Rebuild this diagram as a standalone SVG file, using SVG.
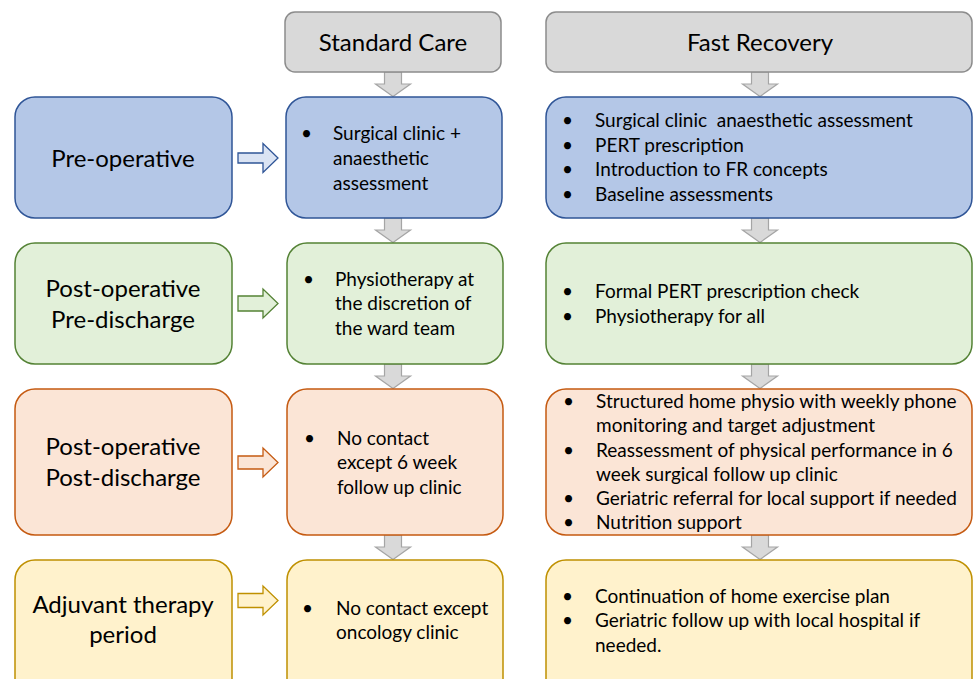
<svg xmlns="http://www.w3.org/2000/svg" width="973" height="679" viewBox="0 0 973 679">
<style>
text{font-family:Lato,"Liberation Sans",sans-serif;fill:#000}
.lbl{font-size:24px;text-anchor:middle}
.hd{font-size:24px;text-anchor:middle}
.it{font-size:19px}
.bl{fill:#b4c7e7;stroke:#2f5597;stroke-width:1.5}
.gr{fill:#e2f0d9;stroke:#548235;stroke-width:1.5}
.or{fill:#fbe5d6;stroke:#c55a11;stroke-width:1.5}
.ye{fill:#fff2cc;stroke:#bf9000;stroke-width:1.5}
.hdb{fill:#d9d9d9;stroke:#8c8c8c;stroke-width:1.5}
.da{fill:#d9d9d9;stroke:#a5a5a5;stroke-width:1.2}
.ab{fill:#dae3f3;stroke:#2f5597;stroke-width:1.3}
.ag{fill:#e2f0d9;stroke:#548235;stroke-width:1.3}
.ao{fill:#fbe5d6;stroke:#c55a11;stroke-width:1.3}
.ay{fill:#fff2cc;stroke:#bf9000;stroke-width:1.3}
</style>
<defs>
<path id="down" d="M-8.5,0 H8.5 V12 H17.5 L0,24.5 L-17.5,12 H-8.5 Z"/>
</defs>
<g id="connectors">
<use href="#down" class="da" x="393" y="72"/>
<use href="#down" class="da" x="760" y="72"/>
<use href="#down" class="da" x="393" y="218"/>
<use href="#down" class="da" x="760" y="218"/>
<use href="#down" class="da" x="393" y="364"/>
<use href="#down" class="da" x="760" y="364"/>
<use href="#down" class="da" x="393" y="535"/>
<use href="#down" class="da" x="760" y="535"/>
<path class="ab" d="M238,153 H263 V143.5 L278,158 L263,172.5 V163 H238 Z"/>
<path class="ag" d="M238,296 H263 V289 L278,303.5 L263,318 V311 H238 Z"/>
<path class="ao" d="M238,456 H263 V448 L278,462.5 L263,477 V469 H238 Z"/>
<path class="ay" d="M238,593.5 H263 V586 L278,600.5 L263,615 V607.5 H238 Z"/>
</g>
<g id="header-standard">
<rect class="hdb" x="285" y="12" width="216" height="60" rx="10"/>
<text class="hd" x="393" y="51">Standard Care</text>
</g>
<g id="header-fast">
<rect class="hdb" x="546" y="12" width="426" height="60" rx="10"/>
<text class="hd" x="760" y="51">Fast Recovery</text>
</g>
<g id="preop-label">
<rect class="bl" x="15" y="97" width="217" height="121" rx="20"/>
<text class="lbl" x="123" y="167">Pre-operative</text>
</g>
<g id="preop-standard">
<rect class="bl" x="286" y="97" width="216" height="121" rx="20"/>
<text class="it"><tspan x="301" y="140">•</tspan><tspan x="333" y="140">Surgical clinic +</tspan><tspan x="333" y="165">anaesthetic</tspan><tspan x="333" y="190">assessment</tspan></text>
</g>
<g id="preop-fast">
<rect class="bl" x="546" y="97" width="426" height="121" rx="20"/>
<text class="it"><tspan x="562" y="127">•</tspan><tspan x="595" y="127" style="white-space:pre">Surgical clinic  anaesthetic assessment</tspan>
<tspan x="562" y="152">•</tspan><tspan x="595" y="152">PERT prescription</tspan>
<tspan x="562" y="176">•</tspan><tspan x="595" y="176">Introduction to FR concepts</tspan>
<tspan x="562" y="201">•</tspan><tspan x="595" y="201">Baseline assessments</tspan></text>
</g>
<g id="predis-label">
<rect class="gr" x="15" y="243" width="217" height="121" rx="20"/>
<text class="lbl"><tspan x="123" y="297">Post-operative</tspan><tspan x="123" y="328">Pre-discharge</tspan></text>
</g>
<g id="predis-standard">
<rect class="gr" x="287" y="243" width="216" height="121" rx="20"/>
<text class="it"><tspan x="303" y="286">•</tspan><tspan x="335" y="286">Physiotherapy at</tspan><tspan x="335" y="310">the discretion of</tspan><tspan x="335" y="335">the ward team</tspan></text>
</g>
<g id="predis-fast">
<rect class="gr" x="546" y="243" width="426" height="121" rx="20"/>
<text class="it"><tspan x="562" y="298">•</tspan><tspan x="595" y="298">Formal PERT prescription check</tspan>
<tspan x="562" y="323">•</tspan><tspan x="595" y="323">Physiotherapy for all</tspan></text>
</g>
<g id="postdis-label">
<rect class="or" x="15" y="389" width="217" height="146" rx="20"/>
<text class="lbl"><tspan x="123" y="455">Post-operative</tspan><tspan x="123" y="486">Post-discharge</tspan></text>
</g>
<g id="postdis-standard">
<rect class="or" x="287" y="389" width="216" height="146" rx="20"/>
<text class="it"><tspan x="304" y="445">•</tspan><tspan x="337" y="445">No contact</tspan><tspan x="337" y="469">except 6 week</tspan><tspan x="337" y="494">follow up clinic</tspan></text>
</g>
<g id="postdis-fast">
<rect class="or" x="546" y="389" width="426" height="146" rx="20"/>
<text class="it"><tspan x="563" y="408">•</tspan><tspan x="596" y="408">Structured home physio with weekly phone</tspan>
<tspan x="596" y="432">monitoring and target adjustment</tspan>
<tspan x="563" y="457">•</tspan><tspan x="596" y="457">Reassessment of physical performance in 6</tspan>
<tspan x="596" y="481">week surgical follow up clinic</tspan>
<tspan x="563" y="505">•</tspan><tspan x="596" y="505">Geriatric referral for local support if needed</tspan>
<tspan x="563" y="529">•</tspan><tspan x="596" y="529">Nutrition support</tspan></text>
</g>
<g id="adj-label">
<rect class="ye" x="15" y="560" width="217" height="140" rx="20"/>
<text class="lbl"><tspan x="123" y="613">Adjuvant therapy</tspan><tspan x="123" y="643">period</tspan></text>
</g>
<g id="adj-standard">
<rect class="ye" x="287" y="560" width="216" height="140" rx="20"/>
<text class="it"><tspan x="302" y="615">•</tspan><tspan x="336" y="615">No contact except</tspan><tspan x="336" y="639">oncology clinic</tspan></text>
</g>
<g id="adj-fast">
<rect class="ye" x="546" y="560" width="426" height="140" rx="20"/>
<text class="it"><tspan x="562" y="603">•</tspan><tspan x="595" y="603">Continuation of home exercise plan</tspan>
<tspan x="562" y="627">•</tspan><tspan x="595" y="627">Geriatric follow up with local hospital if</tspan>
<tspan x="595" y="652">needed.</tspan></text>
</g>
</svg>
